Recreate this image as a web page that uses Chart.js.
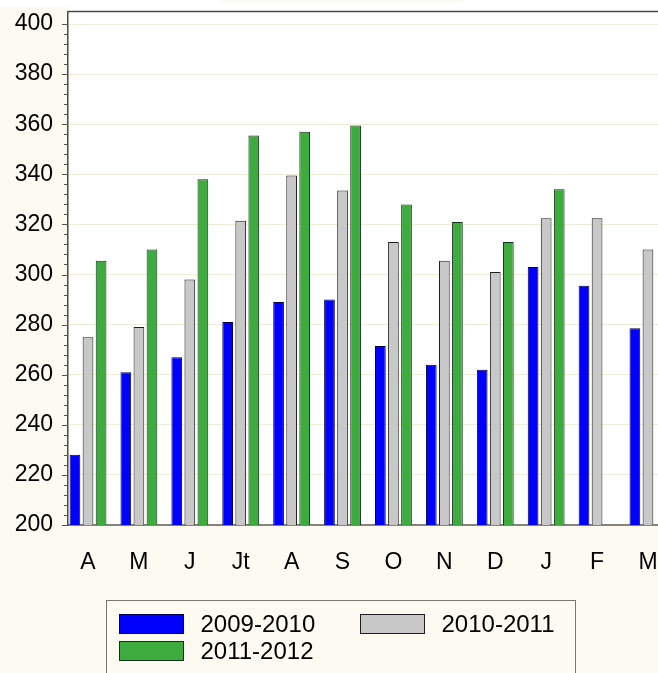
<!DOCTYPE html>
<html>
<head>
<meta charset="utf-8">
<script src="https://cdn.jsdelivr.net/npm/chart.js@4.4.1/dist/chart.umd.min.js"></script>
<style>
  html, body { margin: 0; padding: 0; background: #ffffff; }
  #wrap { position: relative; width: 658px; height: 673px; }
</style>
</head>
<body>
<div id="wrap"><canvas id="c"></canvas></div>
<script>
// ---- data ----
const months = ['A', 'M', 'J', 'Jt', 'A', 'S', 'O', 'N', 'D', 'J', 'F', 'M'];
const seriesNames = ['2009-2010', '2010-2011', '2011-2012'];
const s2009 = [228, 261, 267, 281, 289, 290, 271.5, 264, 262, 303, 295.5, 278.5];
const s2010 = [275, 279, 298, 321.5, 339.5, 333.5, 313, 305.5, 301, 322.5, 322.5, 310];
const s2011 = [305.5, 310, 338, 355.5, 357, 359.5, 328, 321, 313, 334, null, null];
const yTicks = [200, 220, 240, 260, 280, 300, 320, 340, 360, 380, 400];
const minorStep = 4;

const cream = '#fdfaf2';
const toXY = arr => arr.map((v, i) => ({ x: i, y: v }));

const framePlugin = {
  id: 'frame',
  beforeDraw(chart) {
    const { ctx, chartArea: a, width, height } = chart;
    ctx.save();
    ctx.fillStyle = cream;
    ctx.fillRect(0, 0, width, height);
    ctx.fillStyle = '#ffffff';
    ctx.fillRect(0, 0, width, 7);
    ctx.fillRect(a.left, 0, width - a.left, a.bottom);
    ctx.fillStyle = cream;
    ctx.fillRect(222, 0, 240, 2.5);
    ctx.restore();
  },
  afterDraw(chart) {
    const { ctx, chartArea: a } = chart;
    const y = chart.scales.y;
    ctx.save();
    ctx.strokeStyle = '#4b4a40';
    ctx.lineWidth = 1.5;
    ctx.beginPath();
    ctx.moveTo(a.left, a.top);
    ctx.lineTo(a.right, a.top);
    ctx.stroke();
    ctx.strokeStyle = '#55544a';
    ctx.lineWidth = 1;
    const lo = yTicks[0], hi = yTicks[yTicks.length - 1];
    for (let v = lo; v <= hi; v += minorStep) {
      const py = Math.round(y.getPixelForValue(v)) + 0.5;
      const len = (v - lo) % 20 === 0 ? 6 : 4;
      ctx.beginPath();
      ctx.moveTo(a.left - len, py);
      ctx.lineTo(a.left, py);
      ctx.stroke();
    }
    ctx.restore();
  }
};

const legendPlugin = {
  id: 'boxLegend',
  afterDraw(chart) {
    const ctx = chart.ctx;
    const ds = chart.data.datasets;
    ctx.save();
    ctx.strokeStyle = '#7a786c';
    ctx.lineWidth = 1;
    ctx.strokeRect(106.5, 600.5, 469, 120);
    const pos = [[119.5, 614.5], [360.5, 614.5], [119.5, 641.5]];
    ctx.font = '24px "Liberation Sans", Arial, sans-serif';
    ctx.textBaseline = 'middle';
    ctx.textAlign = 'left';
    ds.forEach((d, i) => {
      const [x, yy] = pos[i];
      ctx.fillStyle = d.backgroundColor;
      ctx.fillRect(x, yy, 64, 19);
      ctx.strokeStyle = d.borderColor;
      ctx.strokeRect(x, yy, 64, 19);
      ctx.fillStyle = '#000';
      ctx.fillText(d.label, x + 81, yy + 10.5);
    });
    ctx.restore();
  }
};

const tickFont = { family: '"Liberation Sans", Arial, sans-serif', size: 23 };

new Chart(document.getElementById('c'), {
  type: 'bar',
  data: {
    datasets: [
      { label: seriesNames[0], data: toXY(s2009), backgroundColor: '#0000ff', borderColor: '#00004a', borderWidth: 1 },
      { label: seriesNames[1], data: toXY(s2010), backgroundColor: '#c8c8c8', borderColor: '#1e1e1e', borderWidth: 1 },
      { label: seriesNames[2], data: toXY(s2011), backgroundColor: '#3eab3e', borderColor: '#12301a', borderWidth: 1 }
    ]
  },
  options: {
    responsive: true,
    maintainAspectRatio: false,
    animation: false,
    layout: { padding: { top: 11.5, right: 0, bottom: 0, left: 0 } },
    datasets: { bar: { categoryPercentage: 0.77, barPercentage: 0.82, borderSkipped: 'bottom' } },
    plugins: { legend: { display: false }, tooltip: { enabled: false }, title: { display: false } },
    scales: {
      x: {
        type: 'linear',
        offset: false,
        min: -0.393,
        max: 11.197,
        afterBuildTicks: s => { s.ticks = months.map((m, i) => ({ value: i })); },
        afterFit: s => { s.height = 148; s.paddingLeft = 0; s.paddingRight = 0; },
        grid: { display: false, drawTicks: false, offset: false },
        border: { display: true, color: '#85837a', width: 2 },
        ticks: { padding: 24, font: tickFont, color: '#000', autoSkip: false, maxRotation: 0, callback: v => months[v] }
      },
      y: {
        min: 200,
        max: 405,
        afterBuildTicks: s => { s.ticks = yTicks.map(v => ({ value: v })); },
        afterFit: s => { s.width = 68; s.paddingTop = 0; s.paddingBottom = 0; },
        grid: { color: c => (c.tick && c.tick.value === yTicks[0]) ? 'rgba(0,0,0,0)' : '#efedda', drawTicks: false, lineWidth: 1 },
        border: { display: true, color: '#4b4a40', width: 1.5 },
        ticks: { padding: 15, font: tickFont, color: '#000' }
      }
    }
  },
  plugins: [framePlugin, legendPlugin]
});
</script>
</body>
</html>
